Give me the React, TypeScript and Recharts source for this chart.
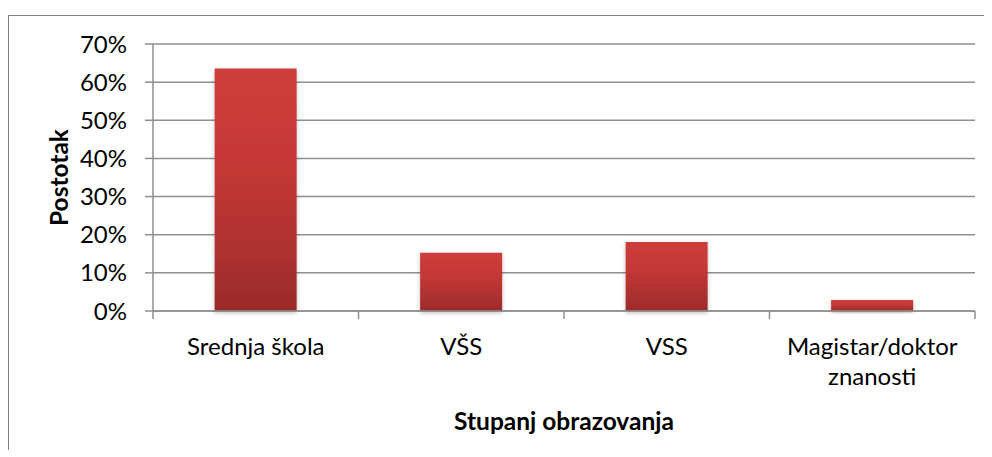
import * as React from 'react';
import { BarChart, Bar, XAxis, YAxis, CartesianGrid, Label } from 'recharts';

// Education level shares
const categories = ['Srednja škola', 'VŠS', 'VSS', 'Magistar/doktor znanosti'];
const shares = [63.6, 15.3, 18.1, 2.9];
const yTicks = [0, 10, 20, 30, 40, 50, 60, 70];

const data = categories.map((name, i) => ({ name, share: shares[i] }));

const W = 984;
const H = 442;
const margin = { top: 36, right: 17, left: 20, bottom: 0 };
const yAxisWidth = 125;
const band = (W - margin.left - margin.right - yAxisWidth) / categories.length;
const FONT = 'Lato, "Open Sans", sans-serif';
const GRAY = '#8f8f8f';

function wrap(text: string, max: number) {
  const lines: string[] = [];
  let cur = '';
  text.split(' ').forEach((w) => {
    if (cur && (cur + ' ' + w).length > max) {
      lines.push(cur);
      cur = w;
    } else {
      cur = cur ? cur + ' ' + w : w;
    }
  });
  if (cur) lines.push(cur);
  return lines;
}

function CategoryTick(props: any) {
  const { x, y, payload, index } = props;
  const lines = wrap(payload.value, 16);
  const left = x - band / 2;
  return (
    <g>
      <line x1={left} x2={left} y1={y - 8} y2={y} stroke={GRAY} strokeWidth={1.5} />
      {index === categories.length - 1 && (
        <line x1={x + band / 2} x2={x + band / 2} y1={y - 8} y2={y} stroke={GRAY} strokeWidth={1.5} />
      )}
      <text textAnchor="middle" fontFamily={FONT} fontSize={24} fill="#000">
        {lines.map((l, i) => (
          <tspan key={i} x={x} y={y + 26 + i * 30} dominantBaseline="central">
            {l}
          </tspan>
        ))}
      </text>
    </g>
  );
}

export default function App() {
  return (
    <div style={{ position: 'relative', width: W, height: H }}>
      <div
        style={{
          position: 'absolute',
          left: 0,
          top: 7,
          width: W,
          height: H - 7,
          borderTop: '1px solid #808080',
          borderLeft: '1px solid #808080',
        }}
      />
      <div style={{ position: 'absolute', left: 0, top: 0 }}>
        <BarChart width={W} height={H} data={data} margin={margin} barCategoryGap="30%">
          <defs>
            <linearGradient id="barFill" x1="0" y1="0" x2="0" y2="1">
              <stop offset="0%" stopColor="#cd3d3a" />
              <stop offset="40%" stopColor="#c53836" />
              <stop offset="100%" stopColor="#9c2b2b" />
            </linearGradient>
            <filter id="shadow" x="-20%" y="-20%" width="140%" height="140%">
              <feDropShadow dx="0" dy="2" stdDeviation="2" floodColor="#000" floodOpacity="0.25" />
            </filter>
          </defs>
          <CartesianGrid vertical={false} stroke={GRAY} strokeWidth={1.5} />
          <XAxis
            dataKey="name"
            height={H - margin.top - margin.bottom - 267}
            axisLine={{ stroke: GRAY, strokeWidth: 1.5 }}
            tickLine={false}
            tickSize={8}
            tickMargin={0}
            tick={<CategoryTick />}
            interval={0}
          >
            <Label
              content={({ viewBox }: any) => (
                <text
                  x={viewBox.x + viewBox.width / 2}
                  y={viewBox.y + 109}
                  textAnchor="middle"
                  dominantBaseline="central"
                  fontFamily={FONT}
                  fontWeight="bold"
                  fontSize={24.5}
                  fill="#000"
                >
                  Stupanj obrazovanja
                </text>
              )}
            />
          </XAxis>
          <YAxis
            width={yAxisWidth}
            domain={[0, 70]}
            ticks={yTicks}
            tickFormatter={(v: number) => `${v}%`}
            axisLine={{ stroke: GRAY, strokeWidth: 1.5 }}
            tickLine={{ stroke: GRAY, strokeWidth: 1.5 }}
            tickSize={8}
            tickMargin={18}
            tick={{ fill: '#000', fontFamily: FONT, fontSize: 24 }}
          >
            <Label
              content={({ viewBox }: any) => {
                const cx = viewBox.x + 30;
                const cy = viewBox.y + viewBox.height / 2;
                return (
                  <text
                    x={cx}
                    y={cy}
                    transform={`rotate(-90 ${cx} ${cy})`}
                    textAnchor="middle"
                    dominantBaseline="central"
                    fontFamily={FONT}
                    fontWeight="bold"
                    fontSize={24.5}
                    fill="#000"
                  >
                    Postotak
                  </text>
                );
              }}
            />
          </YAxis>
          <Bar dataKey="share" fill="url(#barFill)" filter="url(#shadow)" isAnimationActive={false} />
        </BarChart>
      </div>
    </div>
  );
}
